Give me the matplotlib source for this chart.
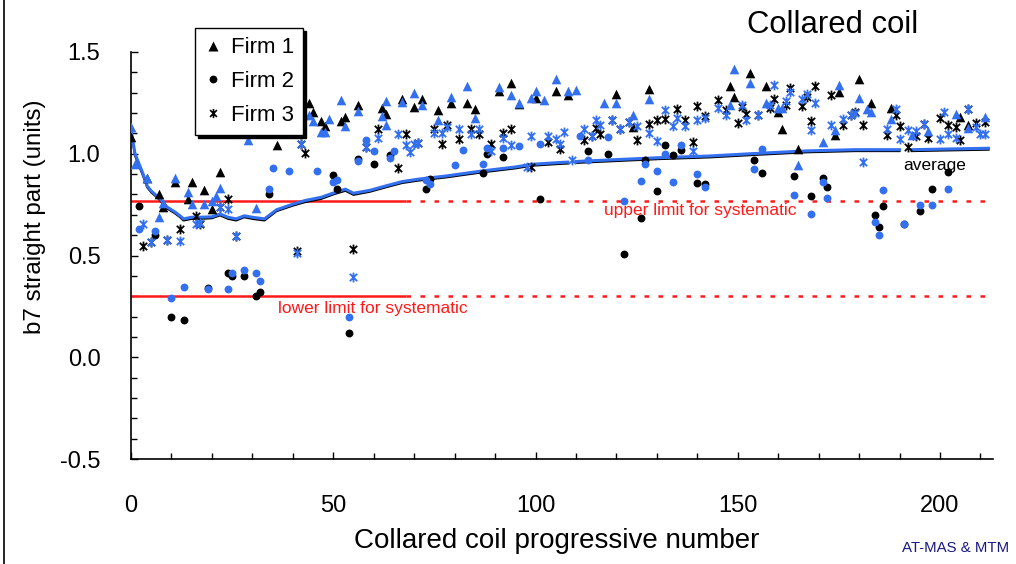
import numpy as np
import matplotlib
matplotlib.use("Agg")
import matplotlib.pyplot as plt
from matplotlib.path import Path
from matplotlib.lines import Line2D

plt.rcParams['font.family'] = ['Liberation Sans', 'DejaVu Sans']

BLUE = '#3370f0'
RED = '#ff1a1a'

# --- Firm 1 (triangles) ---
f1_blk_x = [0, 4, 7, 8, 11, 15, 14, 18, 22, 20, 36, 44, 45, 47, 48, 52, 53, 56, 62, 63, 67, 70,
            72, 76, 79, 83, 85, 91, 94, 96, 100, 105, 108, 120, 124, 128, 148, 149, 153, 157, 160,
            161, 165, 175, 174, 180, 183, 188, 205, 207]
f1_blk_y = [1.08, 0.88, 0.80, 0.74, 0.86, 0.86, 0.78, 0.82, 0.91, 0.73, 1.045, 1.25, 1.205, 1.16,
            1.135, 1.16, 1.18, 1.24, 1.225, 1.197, 1.27, 1.23, 1.268, 1.214, 1.247, 1.25, 1.218,
            1.307, 1.35, 1.245, 1.273, 1.307, 1.287, 1.296, 1.132, 1.32, 1.333, 1.279, 1.399, 1.333,
            1.207, 1.124, 1.025, 1.304, 1.094, 1.366, 1.25, 1.225, 1.181, 1.14]
f1_blu_x = [0, 1, 4, 7, 8, 11, 14, 15, 18, 20, 21, 22, 29, 31, 44, 45, 47, 48, 49, 52, 53, 56, 62,
            63, 63, 67, 70, 72, 76, 79, 83, 85, 91, 94, 96, 99, 100, 102, 105, 108, 110, 117, 120,
            124, 128, 148, 149, 153, 157, 160, 161, 165, 171, 175, 174, 180, 182, 183, 188, 193,
            197, 204, 207, 211]
f1_blu_y = [1.13, 0.95, 0.88, 0.69, 0.76, 0.88, 0.81, 0.755, 0.755, 0.77, 0.79, 0.83, 1.07, 0.734,
            1.19, 1.16, 1.107, 1.107, 1.173, 1.263, 1.135, 1.209, 1.184, 1.258, 1.14, 1.255, 1.30,
            1.242, 1.165, 1.279, 1.333, 1.174, 1.328, 1.287, 1.25, 1.273, 1.307, 1.262, 1.366,
            1.307, 1.312, 1.251, 1.251, 1.189, 1.268, 1.238, 1.415, 1.35, 1.247, 1.223, 1.223,
            0.943, 1.058, 1.337, 1.115, 1.274, 1.222, 1.205, 1.169, 1.091, 1.11, 1.197, 1.125, 1.181]

# --- Firm 2 (circles) ---
f2_blk_x = [2, 6, 10, 13, 19, 24, 25, 28, 31, 32, 34, 50, 51, 54, 56, 60, 64, 73, 74, 87, 88, 92,
            101, 113, 118, 122, 126, 127, 130, 132, 134, 136, 140, 142, 154, 156, 164, 168, 171,
            172, 184, 185, 186, 191, 195, 198, 202]
f2_blk_y = [0.744, 0.60, 0.197, 0.185, 0.342, 0.414, 0.398, 0.40, 0.301, 0.321, 0.804, 0.898, 0.826,
            0.121, 0.976, 0.952, 0.996, 0.826, 0.878, 0.906, 1.001, 0.984, 0.776, 1.012, 1.0, 0.506,
            0.685, 0.968, 0.817, 1.042, 0.995, 1.017, 0.857, 0.85, 0.968, 0.903, 0.889, 0.793,
            0.883, 0.837, 0.698, 0.64, 0.742, 0.657, 0.719, 0.826, 0.911]
f2_blu_x = [2, 6, 10, 13, 19, 24, 25, 28, 31, 32, 34, 35, 39, 46, 50, 51, 54, 56, 58, 60, 64, 65,
            73, 74, 80, 82, 87, 88, 92, 96, 101, 111, 113, 118, 122, 126, 127, 130, 132, 134, 136,
            140, 142, 154, 156, 164, 168, 171, 172, 184, 185, 186, 191, 195, 198, 202]
f2_blu_y = [0.632, 0.62, 0.293, 0.344, 0.333, 0.337, 0.414, 0.427, 0.416, 0.375, 0.826, 0.932,
            0.914, 0.914, 0.862, 0.873, 0.198, 0.965, 1.066, 1.012, 0.981, 1.012, 0.87, 0.853,
            0.943, 1.02, 0.952, 1.03, 1.03, 1.037, 1.047, 1.088, 0.968, 1.083, 0.767, 0.866, 0.952,
            0.914, 1.0, 0.862, 1.042, 0.899, 0.838, 0.927, 1.025, 0.799, 0.703, 0.862, 0.783,
            0.665, 0.603, 0.821, 0.657, 0.75, 0.747, 0.826]

# --- Firm 3 (asterisks) ---
f3_blk_x = [3, 5, 9, 12, 16, 17, 22, 24, 26, 41, 43, 42, 55, 58, 61, 66, 68, 71, 75, 77, 78, 81,
            84, 86, 89, 92, 94, 99, 103, 106, 112, 114, 115, 116, 119, 121, 123, 125, 128, 130, 132,
            135, 137, 139, 140, 142, 145, 147, 150, 151, 152, 155, 158, 159, 162, 163, 166, 167,
            168, 169, 173, 176, 178, 179, 181, 187, 189, 190, 192, 194, 196, 197, 200, 202, 204,
            205, 207, 209, 211]
f3_blk_y = [0.547, 0.567, 0.578, 0.629, 0.694, 0.657, 0.738, 0.776, 0.596, 0.52, 1.004, 1.05, 0.534,
            1.033, 1.124, 0.93, 1.099, 1.055, 1.12, 1.05, 1.14, 1.071, 1.124, 1.096, 1.05, 1.10, 1.12,
            0.935, 1.058, 1.022, 1.066, 1.088, 1.127, 1.099, 1.164, 1.12, 1.157, 1.066, 1.148, 1.164,
            1.172, 1.222, 1.166, 1.058, 1.235, 1.187, 1.263, 1.214, 1.153, 1.229, 1.197, 1.19, 1.225,
            1.271, 1.238, 1.324, 1.235, 1.277, 1.16, 1.333, 1.287, 1.143, 1.189, 1.205, 1.143,
            1.094, 1.19, 1.135, 1.033, 1.088, 1.148, 1.078, 1.176, 1.14, 1.13, 1.066, 1.222, 1.153,
            1.157]
f3_blu_x = [3, 5, 9, 12, 16, 17, 22, 24, 26, 41, 42, 55, 58, 61, 66, 68, 69, 70, 71, 75, 77, 78, 81,
            84, 86, 89, 92, 94, 98, 99, 103, 105, 106, 107, 109, 112, 114, 115, 116, 119, 121, 123,
            125, 128, 130, 132, 134, 135, 137, 139, 140, 142, 145, 147, 151, 152, 155, 158, 159,
            162, 163, 166, 167, 168, 169, 173, 176, 178, 179, 181, 187, 189, 190, 192, 194, 196,
            200, 201, 202, 204, 207, 209, 210, 211]
f3_blu_y = [0.657, 0.567, 0.578, 0.572, 0.657, 0.66, 0.738, 0.73, 0.596, 0.514, 1.05, 0.392, 1.033,
            1.075, 1.099, 1.045, 1.009, 1.05, 1.055, 1.104, 1.104, 1.132, 1.12, 1.099, 1.12, 1.012,
            1.078, 1.045, 0.935, 1.086, 1.088, 1.071, 1.05, 1.107, 0.968, 1.124, 1.088, 1.164,
            1.143, 1.164, 1.12, 1.157, 1.135, 1.103, 1.063, 1.214, 1.135, 1.176, 1.138, 1.012,
            1.166, 1.176, 1.225, 1.189, 1.242, 1.168, 1.19, 1.242, 1.337, 1.258, 1.301, 1.271,
            1.296, 1.115, 1.247, 1.14, 1.172, 1.189, 1.2, 0.96, 1.12, 1.22, 1.071, 1.115, 1.11,
            1.148, 1.071, 1.205, 1.096, 1.078, 1.222, 1.132, 1.096, 1.096]

# running average of the two apertures (nan = no value)
avg_x = [0, 1, 3, 4, 5, 7, 9, 11, 12, 13, 15, 17, 20, 22, 24, 26, 28, 30, 33, 36, 40, 43, 47, 50,
         53, 55, 59, 63, 67, 71, 78, 87, 95, 99, 106, 108, 109, 110, 122, 131, 143, 154, 167, 179,
         190, 191, 193, 212]
avg_blk = [1.11, 0.99, 0.89, 0.835, 0.81, 0.775, 0.73, 0.705, 0.69, 0.672, 0.68, 0.68, 0.683, 0.697,
           0.68, 0.672, 0.688, 0.68, 0.672, 0.718, 0.745, 0.762, 0.778, 0.80, 0.818, 0.798, 0.813,
           0.835, 0.856, 0.868, 0.884, 0.909, 0.928, 0.941, 0.95, 0.952, np.nan, 0.955, 0.966,
           0.974, 0.982, 0.994, 1.007, 1.013, 1.013, np.nan, 1.013, 1.02]
avg_blu = [1.12, 1.0, 0.9, 0.842, 0.817, 0.782, 0.737, 0.712, 0.697, 0.68, 0.688, 0.688, 0.69, 0.704,
           0.688, 0.68, 0.695, 0.688, 0.68, 0.725, 0.752, 0.77, 0.786, 0.807, 0.826, 0.806, 0.82,
           0.842, 0.863, 0.875, 0.891, 0.916, 0.935, 0.948, 0.957, 0.959, np.nan, 0.962, 0.973,
           0.981, 0.989, 1.001, 1.014, 1.02, 1.02, np.nan, 1.02, 1.027]

# systematic limits: solid over the first coils, dashed afterwards
upper_limit = 0.77
lower_limit = 0.30
solid_x = [0, 68]
dashed_x = [68, 212]

# asterisk marker: x with a vertical bar
star = Path([(0, -1), (0, 1), (-0.75, -0.75), (0.75, 0.75), (-0.75, 0.75), (0.75, -0.75)],
            [Path.MOVETO, Path.LINETO, Path.MOVETO, Path.LINETO, Path.MOVETO, Path.LINETO])

W, H = 1016, 564
fig = plt.figure(figsize=(W / 100, H / 100), dpi=100)
ax = fig.add_axes([131 / W, 1 - 459 / H, (992.6 - 131) / W, (459 - 52) / H])

# limit lines
for lim in (upper_limit, lower_limit):
    ax.plot(solid_x, [lim, lim], color=RED, lw=1.8, solid_capstyle='butt', zorder=2)
    ax.plot(dashed_x, [lim, lim], color=RED, lw=1.8, ls=(0, (1.8, 3.8)), zorder=2)

# running averages
ax.plot(avg_x, avg_blk, color='black', lw=1.5, zorder=3)
ax.plot(avg_x, avg_blu, color=BLUE, lw=2.2, zorder=3)

s_tri, s_dot, s_star = 48, 32, 50
ax.scatter(f1_blk_x, f1_blk_y, marker='^', s=s_tri, color='black', linewidths=0, zorder=4)
ax.scatter(f2_blk_x, f2_blk_y, marker='o', s=s_dot, color='black', linewidths=0, zorder=4)
ax.scatter(f3_blk_x, f3_blk_y, marker=star, s=s_star, color='black', linewidths=1.3, zorder=4)
ax.scatter(f1_blu_x, f1_blu_y, marker='^', s=s_tri, color=BLUE, linewidths=0, zorder=4)
ax.scatter(f2_blu_x, f2_blu_y, marker='o', s=s_dot, color=BLUE, linewidths=0, zorder=4)
ax.scatter(f3_blu_x, f3_blu_y, marker=star, s=s_star, color=BLUE, linewidths=1.3, zorder=4)

ax.set_xlim(0, 213)
ax.set_ylim(-0.5, 1.5)
ax.set_xticks([0, 50, 100, 150, 200])
ax.set_xticks(np.arange(0, 213, 10), minor=True)
ax.set_yticks([-0.5, 0.0, 0.5, 1.0, 1.5])
ax.set_yticks(np.arange(-0.5, 1.51, 0.1), minor=True)
ax.set_yticklabels(['-0.5', '0.0', '0.5', '1.0', '1.5'])
ax.tick_params(which='both', direction='in', width=1, color='black', labelsize=17)
ax.tick_params(which='major', length=5)
ax.tick_params(which='minor', length=4.5)
ax.tick_params(axis='x', pad=26)
ax.tick_params(axis='y', pad=22)
for side in ('top', 'right'):
    ax.spines[side].set_visible(False)
for side in ('left', 'bottom'):
    ax.spines[side].set_linewidth(1.2)

ax.text(117, 0.722, 'upper limit for systematic', color=RED, fontsize=12.5, va='center')
ax.text(36.3, 0.24, 'lower limit for systematic', color=RED, fontsize=12.5, va='center')
ax.text(190.9, 0.943, 'average', color='black', fontsize=12.5, va='center')

# legend with black markers and a hard shadow
handles = [
    Line2D([], [], ls='none', marker='^', ms=6.8, color='black', mec='none'),
    Line2D([], [], ls='none', marker='o', ms=5.6, color='black', mec='none'),
    Line2D([], [], ls='none', marker=star, ms=6.6, color='black', mew=1.2),
]
fig.legend(handles, ['Firm 1', 'Firm 2', 'Firm 3'], loc='upper left',
           bbox_to_anchor=(195 / W, 1 - 28 / H), bbox_transform=fig.transFigure,
           borderaxespad=0, fontsize=16, frameon=True, fancybox=False, edgecolor='black',
           framealpha=1, shadow={'color': 'black', 'alpha': 1}, handlelength=0.8,
           handletextpad=0.4, borderpad=0.42, labelspacing=0.58)

fig.text(833 / W, 1 - 25 / H, 'Collared coil', fontsize=22.3, ha='center', va='center')
fig.text(35 / W, 1 - 217 / H, 'b7 straight part (units)', fontsize=17.4, rotation=90,
         ha='center', va='center')
fig.text(557 / W, 1 - 541 / H, 'Collared coil progressive number', fontsize=20,
         ha='center', va='center')
fig.text(956 / W, 1 - 548 / H, 'AT-MAS & MTM', fontsize=10.8, color='#1a1a80',
         ha='center', va='center')

# frame edge on the left of the sheet
fig.add_artist(Line2D([4 / W, 4 / W], [0, 1], color='black', lw=1.2, transform=fig.transFigure))

fig.savefig('out.png', dpi=100)
